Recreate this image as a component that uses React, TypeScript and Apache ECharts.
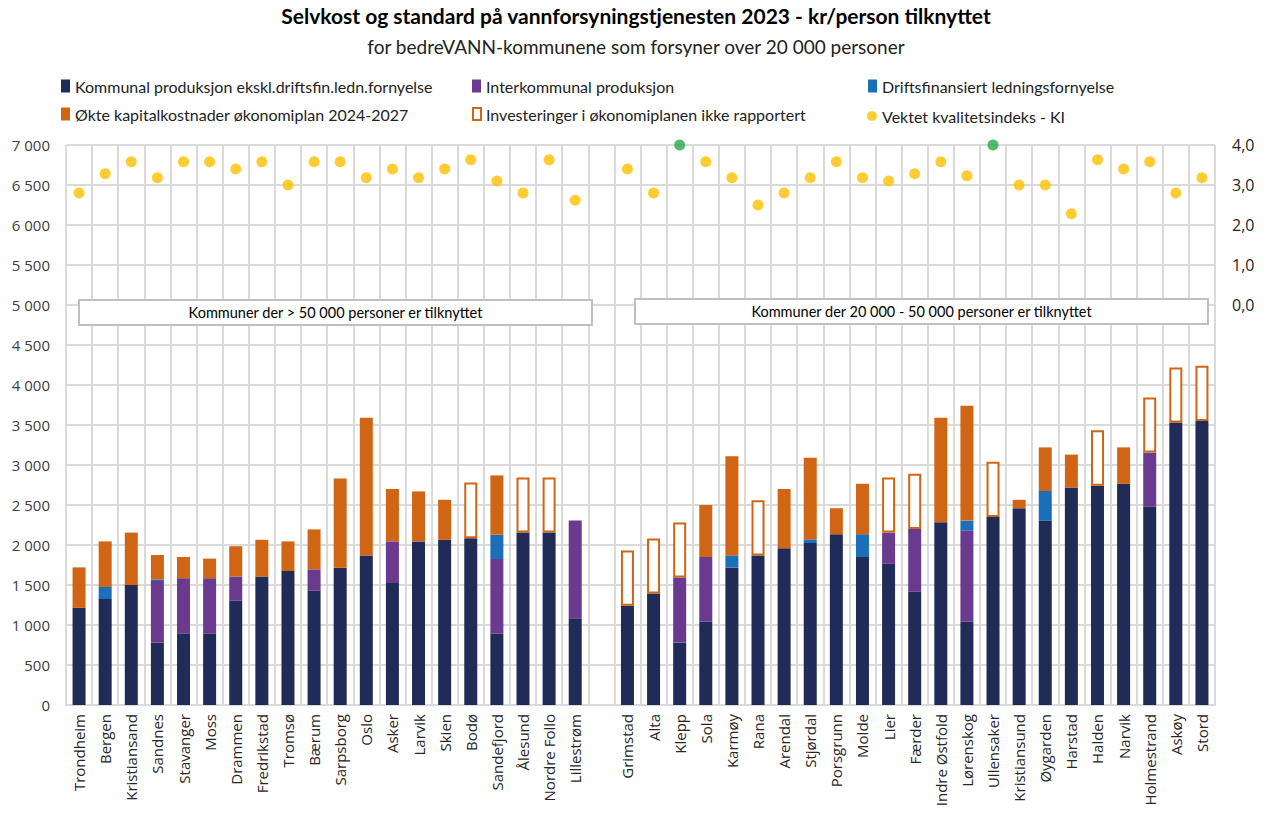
import React, { useEffect, useRef } from "react";
import * as echarts from "echarts";

const leftNames = ["Trondheim","Bergen","Kristiansand","Sandnes","Stavanger","Moss","Drammen","Fredrikstad","Tromsø","Bærum","Sarpsborg","Oslo","Asker","Larvik","Skien","Bodø","Sandefjord","Ålesund","Nordre Follo","Lillestrøm"];
const rightNames = ["Grimstad","Alta","Klepp","Sola","Karmøy","Rana","Arendal","Stjørdal","Porsgrunn","Molde","Lier","Færder","Indre Østfold","Lørenskog","Ullensaker","Kristiansund","Øygarden","Harstad","Halden","Narvik","Holmestrand","Askøy","Stord"];

const N = null;
const kommunalLeft = [1215,1325,1500,780,890,890,1305,1605,1675,1430,1715,1870,1525,2045,2065,2085,890,2155,2155,1085];
const kommunalRight = [1240,1395,780,1040,1720,1870,1960,2025,2135,1850,1765,1415,2285,1040,2350,2460,2305,2720,2740,2765,2480,3530,3550];
const interLeft = [N,N,N,770,695,695,300,N,N,265,N,N,520,N,N,N,935,N,N,1220];
const interRight = [N,N,815,810,N,N,N,N,N,N,390,785,N,1140,N,N,N,N,N,N,675,N,N];
const driftLeft = [N,150,N,20,N,N,N,N,N,N,N,N,N,N,N,N,305,N,N,N];
const driftRight = [N,N,N,N,150,N,N,45,N,285,N,N,N,125,N,N,370,N,N,N,N,N,N];
const okteLeft = [505,570,655,305,265,245,380,460,370,500,1115,1720,655,625,500,N,740,N,N,N];
const okteRight = [N,N,N,650,1240,N,740,1020,325,630,N,N,1305,1435,N,105,545,410,N,455,N,N,N];
const ikkeRappLeft = [N,N,N,N,N,N,N,N,N,N,N,N,N,N,N,695,N,690,690,N];
const ikkeRappRight = [690,685,685,N,N,690,N,N,N,N,690,690,N,N,690,N,N,N,695,N,690,690,690];
const kiLeft = [2.8,3.28,3.58,3.18,3.58,3.58,3.4,3.58,3.0,3.58,3.58,3.18,3.4,3.18,3.4,3.63,3.1,2.8,3.63,2.62];
const kiRight = [3.4,2.8,N,3.58,3.18,2.5,2.8,3.18,3.58,3.18,3.1,3.28,3.58,3.23,N,3.0,3.0,2.28,3.63,3.4,3.58,2.8,3.18];
const kiTopLeft = leftNames.map(() => N);
const kiTopRight = [N,N,4.0,N,N,N,N,N,N,N,N,N,N,N,4.0,N,N,N,N,N,N,N,N];

const groupLabels = ["Kommuner der > 50 000 personer er tilknyttet", "Kommuner der 20 000 - 50 000 personer er tilknyttet"];
const title = "Selvkost og standard på vannforsyningstjenesten 2023 - kr/person tilknyttet";
const subtitle = "for bedreVANN-kommunene som forsyner over 20 000 personer";

const names = {
  kommunal: "Kommunal produksjon ekskl.driftsfin.ledn.fornyelse",
  inter: "Interkommunal produksjon",
  drift: "Driftsfinansiert ledningsfornyelse",
  okte: "Økte kapitalkostnader økonomiplan 2024-2027",
  ikke: "Investeringer i økonomiplanen ikke rapportert",
  ki: "Vektet kvalitetsindeks - KI",
};

const join = (a: any[], b: any[]) => [...a, null, ...b];
const categories = [...leftNames, "", ...rightNames];

const C = {
  navy: "#212B58",
  purple: "#6A3A8E",
  blue: "#1A6FB8",
  orange: "#D06515",
  yellow: "#FFC000",
  green: "#27A84A",
  grid: "#DADADA",
};

const FONT = "Lato";

export default function App() {
  const ref = useRef<HTMLDivElement>(null);
  useEffect(() => {
    if (!ref.current) return;
    const chart = echarts.init(ref.current, null, { renderer: "svg" });
    const barBase = { type: "bar", stack: "total", barWidth: 13 };
    const legendBase = (name: string, left: number, top: number, extra: any = {}) => ({
      data: [name],
      left,
      top,
      padding: 0,
      itemWidth: 9,
      itemHeight: 13,
      icon: "rect",
      textStyle: { fontFamily: FONT, fontSize: 16, color: "#222" },
      selectedMode: false,
      ...extra,
    });
    chart.setOption({
      animation: false,
      backgroundColor: "#fff",
      title: [
        { text: title, left: "center", top: 5, padding: 0, textStyle: { fontFamily: FONT, fontSize: 21, fontWeight: "bold", color: "#000" } },
        { text: subtitle, left: "center", top: 37, padding: 0, textStyle: { fontFamily: FONT, fontSize: 19, fontWeight: "normal", color: "#222" } },
      ],
      legend: [
        legendBase(names.kommunal, 61, 78),
        legendBase(names.inter, 472, 78),
        legendBase(names.drift, 868, 78),
        legendBase(names.okte, 61, 106),
        legendBase(names.ikke, 472, 106, { itemStyle: { color: "#fff", borderColor: C.orange, borderWidth: 2 }, itemWidth: 8, itemHeight: 12 }),
        legendBase(names.ki, 867, 108, { icon: "circle", itemWidth: 10, itemHeight: 10 }),
      ],
      grid: { left: 66, right: 57, top: 145, bottom: 109 },
      xAxis: {
        type: "category",
        data: categories,
        axisTick: { show: false },
        axisLine: { show: true, lineStyle: { color: C.grid, width: 2 } },
        splitLine: { show: true, lineStyle: { color: C.grid, width: 2 } },
        axisLabel: { rotate: 90, interval: 0, margin: 9, fontFamily: "Open Sans", fontSize: 15, color: "#262626" },
      },
      yAxis: [
        {
          type: "value",
          min: 0,
          max: 7000,
          interval: 500,
          axisLine: { show: false },
          axisTick: { show: false },
          splitLine: { show: true, lineStyle: { color: C.grid, width: 2 } },
          axisLabel: {
            margin: 16,
            fontFamily: "Open Sans",
            fontSize: 15,
            color: "#404040",
            formatter: (v: number) => (v >= 1000 ? `${Math.floor(v / 1000)} ${String(v % 1000).padStart(3, "0")}` : String(v)),
          },
        },
        {
          type: "value",
          min: -10,
          max: 4,
          interval: 1,
          position: "right",
          axisLine: { show: false },
          axisTick: { show: false },
          splitLine: { show: false },
          axisLabel: {
            margin: 17,
            fontFamily: "Open Sans",
            fontSize: 16,
            color: "#262626",
            formatter: (v: number) => (v >= 0 ? v.toFixed(1).replace(".", ",") : ""),
          },
        },
      ],
      series: [
        { ...barBase, name: names.kommunal, data: join(kommunalLeft, kommunalRight), itemStyle: { color: C.navy } },
        { ...barBase, name: names.inter, data: join(interLeft, interRight), itemStyle: { color: C.purple } },
        { ...barBase, name: names.drift, data: join(driftLeft, driftRight), itemStyle: { color: C.blue } },
        { ...barBase, name: names.okte, data: join(okteLeft, okteRight), itemStyle: { color: C.orange } },
        { ...barBase, name: names.ikke, data: join(ikkeRappLeft, ikkeRappRight), itemStyle: { color: "#fff", borderColor: C.orange, borderWidth: 2 } },
        { type: "scatter", name: names.ki, yAxisIndex: 1, data: join(kiLeft, kiRight), symbolSize: 11, itemStyle: { color: C.yellow }, clip: false, z: 5 },
        { type: "scatter", name: "KI topp", yAxisIndex: 1, data: join(kiTopLeft, kiTopRight), symbolSize: 11, itemStyle: { color: C.green }, clip: false, z: 5 },
      ],
      graphic: [
        { type: "rect", z: 10, shape: { x: 79, y: 300, width: 513, height: 25 }, style: { fill: "#fff", stroke: "#BFBFBF", lineWidth: 2 } },
        { type: "text", z: 11, x: 335.5, y: 312.5, style: { text: groupLabels[0], fontFamily: FONT, fontSize: 14.5, fill: "#000", textAlign: "center", textVerticalAlign: "middle" } },
        { type: "rect", z: 10, shape: { x: 635, y: 299, width: 573, height: 25 }, style: { fill: "#fff", stroke: "#BFBFBF", lineWidth: 2 } },
        { type: "text", z: 11, x: 921.5, y: 311.5, style: { text: groupLabels[1], fontFamily: FONT, fontSize: 14.5, fill: "#000", textAlign: "center", textVerticalAlign: "middle" } },
      ],
    });
    return () => chart.dispose();
  }, []);
  return <div ref={ref} style={{ position: "fixed", left: 0, top: 0, width: 1272, height: 814 }} />;
}
